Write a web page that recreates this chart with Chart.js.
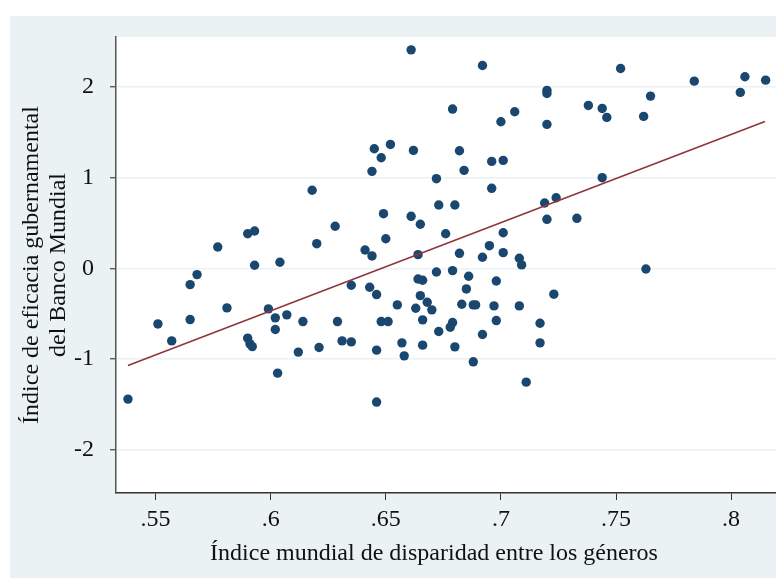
<!DOCTYPE html>
<html>
<head>
<meta charset="utf-8">
<script src="https://cdn.jsdelivr.net/npm/chart.js@4.4.1/dist/chart.umd.min.js"></script>
<style>
  html, body { margin: 0; padding: 0; background: #ffffff; }
  #wrap { position: absolute; left: 10px; top: 16px; width: 766px; height: 562px; background: #eaf2f3; }
</style>
</head>
<body>
<div id="wrap"><canvas id="myChart" width="766" height="562"></canvas></div>
<script>
// gender gap index (x) and government effectiveness (y), one entry per country
const gapIndex = [
  0.618, 0.590, 0.593, 0.577, 0.620, 0.593, 0.604,
  0.661, 0.692, 0.720, 0.720, 0.679, 0.706, 0.700, 0.720, 0.645, 0.652, 0.662, 0.682,
  0.648, 0.644, 0.684, 0.696, 0.701, 0.672, 0.696, 0.719, 0.673, 0.680, 0.649, 0.661,
  0.665, 0.720, 0.628, 0.650, 0.676, 0.701, 0.641, 0.644, 0.664, 0.682, 0.695, 0.692,
  0.701, 0.708, 0.709,
  0.752, 0.784, 0.806, 0.815, 0.804, 0.765, 0.738, 0.744, 0.746, 0.762, 0.744, 0.724, 0.733,
  0.568, 0.565, 0.581, 0.551, 0.565, 0.557, 0.599, 0.602, 0.607, 0.602, 0.614, 0.590,
  0.591, 0.592, 0.612, 0.621, 0.603, 0.538,
  0.635, 0.643, 0.646, 0.629, 0.631, 0.635, 0.646, 0.648, 0.651, 0.655, 0.646, 0.657,
  0.658, 0.664, 0.666, 0.672, 0.679, 0.686, 0.685, 0.698, 0.665, 0.668, 0.670, 0.663,
  0.683, 0.688, 0.689, 0.697, 0.708, 0.666, 0.679, 0.678, 0.673, 0.698, 0.692, 0.717,
  0.717, 0.666, 0.680, 0.688, 0.711,
  0.763, 0.723
];
const effectiveness = [
  0.862, 0.383, 0.413, 0.237, 0.273, 0.035, 0.068,
  2.411, 2.239, 1.930, 1.964, 1.758, 1.728, 1.618, 1.589, 1.320, 1.368, 1.302, 1.298,
  1.221, 1.071, 1.082, 1.181, 1.192, 0.990, 0.884, 0.722, 0.700, 0.700, 0.604, 0.575,
  0.487, 0.542, 0.465, 0.328, 0.383, 0.394, 0.204, 0.138, 0.152, 0.167, 0.251, 0.123,
  0.174, 0.112, 0.039,
  2.206, 2.066, 2.114, 2.077, 1.942, 1.901, 1.798, 1.765, 1.666, 1.677, 1.001, 0.780, 0.553,
  -0.068, -0.178, -0.435, -0.612, -0.564, -0.799, -0.446, -0.545, -0.512, -0.674, -0.586, -0.769,
  -0.832, -0.862, -0.923, -0.872, -1.155, -1.441,
  -0.185, -0.207, -0.288, -0.586, -0.799, -0.810, -0.901, -0.586, -0.586, -0.402, -1.474, -0.821,
  -0.964, -0.116, -0.130, -0.039, -0.024, -0.086, -0.226, -0.138, -0.300, -0.373, -0.457, -0.439,
  -0.395, -0.402, -0.402, -0.413, -0.413, -0.567, -0.597, -0.648, -0.696, -0.575, -0.729, -0.604,
  -0.821, -0.846, -0.865, -1.030, -1.254,
  -0.006, -0.284
];

// fitted line end points
const fitX = [0.538, 0.8147];
const fitY = [-1.071, 1.622];

const xTicks = [0.55, 0.6, 0.65, 0.7, 0.75, 0.8];
const xTickLabels = [".55", ".6", ".65", ".7", ".75", ".8"];
const yTicks = [-2, -1, 0, 1, 2];
const yTickLabels = ["-2", "-1", "0", "1", "2"];

// trailing spaces nudge the centred title a little to the left, as in the original
const xTitle = "Índice mundial de disparidad entre los géneros\u00a0\u00a0\u00a0\u00a0";
const yTitle = ["Índice de eficacia gubernamental", "del Banco Mundial"];

const serif = "'Liberation Serif', 'DejaVu Serif', serif";

const plotBackground = {
  id: "plotBackground",
  beforeDraw(chart)
  {
    const {ctx, chartArea: a} = chart;
    ctx.save();
    ctx.fillStyle = "#ffffff";
    ctx.fillRect(a.left, a.top, a.right - a.left, a.bottom - a.top);
    ctx.restore();
  }
};

const element = document.getElementById("myChart");

new Chart(element, {
  data: {
    datasets: [
      {
        type: "line",
        data: fitX.map((x, i) => ({x: x, y: fitY[i]})),
        borderColor: "#90353b",
        borderWidth: 1.6,
        pointRadius: 0,
        order: 0,
      },
      {
        type: "scatter",
        data: gapIndex.map((x, i) => ({x: x, y: effectiveness[i]})),
        backgroundColor: "#1a476f",
        borderColor: "#1a476f",
        borderWidth: 0,
        pointRadius: 4.7,
        order: 1,
      },
    ],
  },
  options: {
    responsive: false,
    animation: false,
    devicePixelRatio: 1,
    layout: {autoPadding: false, padding: {top: 21, right: 0, left: 0, bottom: 0}},
    plugins: {
      legend: {display: false},
      tooltip: {enabled: false},
    },
    scales: {
      x: {
        type: "linear",
        min: 0.5328,
        max: 0.8195,
        afterBuildTicks: scale => { scale.ticks = xTicks.map(v => ({value: v})); },
        afterFit: scale =>
        {
          scale.height = 85;
          scale.paddingLeft = 0;
          scale.paddingRight = 0;
        },
        ticks: {
          callback: (v, i) => xTickLabels[i],
          font: {family: serif, size: 24},
          color: "#111111",
          padding: 5,
          maxRotation: 0,
        },
        grid: {drawOnChartArea: false, tickLength: 7, tickColor: "#333333", tickWidth: 1},
        border: {color: "#333333", width: 1.5},
        title: {
          display: true,
          text: xTitle,
          font: {family: serif, size: 24},
          color: "#111111",
          padding: {top: 0, bottom: 10},
        },
      },
      y: {
        type: "linear",
        min: -2.477,
        max: 2.553,
        afterBuildTicks: scale => { scale.ticks = yTicks.map(v => ({value: v})); },
        afterFit: scale =>
        {
          scale.width = 106;
          scale.paddingTop = 0;
          scale.paddingBottom = 0;
        },
        ticks: {
          callback: (v, i) => yTickLabels[i],
          font: {family: serif, size: 24},
          color: "#111111",
          padding: 16,
        },
        grid: {color: "#eaf2f3", lineWidth: 1.5, tickLength: 6, tickColor: "#444444", tickWidth: 1.2},
        border: {color: "#555555", width: 1.5},
        title: {
          display: true,
          text: yTitle,
          font: {family: serif, size: 24, lineHeight: 1.12},
          color: "#111111",
          padding: {top: 8, bottom: 0},
        },
      },
    },
  },
  plugins: [plotBackground],
});
</script>
</body>
</html>
